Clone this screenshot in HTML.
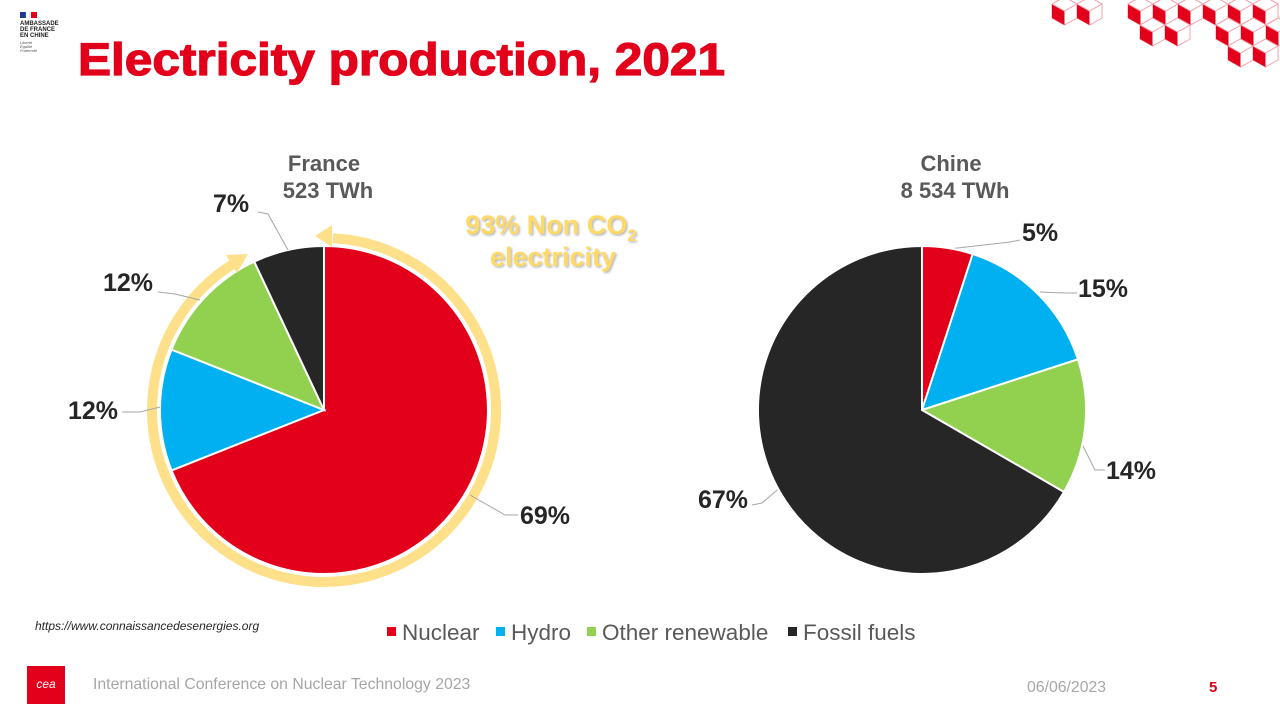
<!DOCTYPE html>
<html><head><meta charset="utf-8"><style>
body{margin:0;width:1280px;height:720px;background:#fff;overflow:hidden;font-family:"Liberation Sans",sans-serif}
svg{position:absolute;left:0;top:0}
</style></head><body>
<svg width="1280" height="720" viewBox="0 0 1280 720" font-family="Liberation Sans, sans-serif">
<defs>
<g id="cube">
<polygon points="0,0 12.5,-7 25,0 25,14 12.5,21 0,14" fill="#fff" stroke="#f4a0aa" stroke-width="1"/>
<polygon points="0,0 12.5,7 12.5,21 0,14" fill="#e2001a"/>
<polygon points="0,0 12.5,-7 25,0 12.5,7" fill="#fff" stroke="#f4a0aa" stroke-width="1"/>
</g>
<filter id="sh" x="-10%" y="-10%" width="120%" height="130%"><feDropShadow dx="1.5" dy="1.5" stdDeviation="1" flood-color="#888" flood-opacity="0.6"/></filter>
</defs>
<use href="#cube" x="1052" y="4"/><use href="#cube" x="1077" y="4"/>
<use href="#cube" x="1128" y="4"/><use href="#cube" x="1153" y="4"/><use href="#cube" x="1178" y="4"/><use href="#cube" x="1203" y="4"/><use href="#cube" x="1228" y="4"/><use href="#cube" x="1253" y="4"/>
<use href="#cube" x="1140" y="25"/><use href="#cube" x="1165" y="25"/><use href="#cube" x="1216" y="25"/><use href="#cube" x="1241" y="25"/><use href="#cube" x="1266" y="25"/>
<use href="#cube" x="1228" y="46"/><use href="#cube" x="1253" y="46"/>
<rect x="20" y="12" width="6" height="6" fill="#1f3a93"/><rect x="26" y="12" width="4" height="6" fill="#fff" stroke="#ddd" stroke-width=".3"/><rect x="31" y="12" width="6" height="6" fill="#e2001a"/>
<text x="20" y="25" font-size="6" font-weight="bold" fill="#222">AMBASSADE</text>
<text x="20" y="31" font-size="6" font-weight="bold" fill="#222">DE FRANCE</text>
<text x="20" y="37" font-size="6" font-weight="bold" fill="#222">EN CHINE</text>
<text x="20" y="44" font-size="4" font-style="italic" fill="#555">Liberté</text>
<text x="20" y="48" font-size="4" font-style="italic" fill="#555">Égalité</text>
<text x="20" y="52" font-size="4" font-style="italic" fill="#555">Fraternité</text>
<text x="78" y="75" font-size="45" font-weight="bold" fill="#e2001a" stroke="#e2001a" stroke-width="1.2" textLength="647" lengthAdjust="spacingAndGlyphs">Electricity production, 2021</text>
<text x="324" y="171" font-size="22" font-weight="bold" fill="#595959" text-anchor="middle">France</text>
<text x="328" y="198" font-size="22" font-weight="bold" fill="#595959" text-anchor="middle">523 TWh</text>
<g stroke="#fff" stroke-width="2">
<path d="M324,410 L324,246 A164,164 0 1 1 171.5,470.4 Z" fill="#e2001a"/>
<path d="M324,410 L171.5,470.4 A164,164 0 0 1 171.5,349.6 Z" fill="#00b0f0"/>
<path d="M324,410 L171.5,349.6 A164,164 0 0 1 254.2,261.6 Z" fill="#92d050"/>
<path d="M324,410 L254.2,261.6 A164,164 0 0 1 324,246 Z" fill="#262626"/>
</g>
<path d="M333,238.2 A172,172 0 1 1 232.9,264.1" fill="none" stroke="#ffe08a" stroke-width="10"/>
<polygon points="315,236 332,225 332,247" fill="#ffe08a"/>
<polygon points="248,254 237,273 226,255" fill="#ffe08a"/>
<g stroke="#a6a6a6" stroke-width="1" fill="none">
<polyline points="258,212 268,214 288,250"/>
<polyline points="158,292 175,294 200,300"/>
<polyline points="122,412 140,412 160,407"/>
<polyline points="518,515 505,515 470,495"/>
<polyline points="1020,240 1010,242 940,250"/>
<polyline points="1077,293 1065,293 1040,292"/>
<polyline points="1105,470 1095,470 1075,430"/>
<polyline points="752,505 762,503 782,486"/>
</g>
<g font-size="25" font-weight="bold" fill="#262626">
<text x="213" y="212">7%</text>
<text x="103" y="291">12%</text>
<text x="68" y="419">12%</text>
<text x="520" y="524">69%</text>
<text x="1022" y="241">5%</text>
<text x="1078" y="297">15%</text>
<text x="1106" y="479">14%</text>
<text x="698" y="508">67%</text>
</g>
<g filter="url(#sh)">
<text x="551" y="234" font-size="27" font-weight="bold" fill="#ffd966" text-anchor="middle">93% Non CO<tspan font-size="17" dy="7">2</tspan></text>
<text x="553" y="266" font-size="27" font-weight="bold" fill="#ffd966" text-anchor="middle">electricity</text>
</g>
<text x="951" y="171" font-size="22" font-weight="bold" fill="#595959" text-anchor="middle">Chine</text>
<text x="955" y="198" font-size="22" font-weight="bold" fill="#595959" text-anchor="middle">8 534 TWh</text>
<g stroke="#fff" stroke-width="2">
<path d="M922,410 L922,246 A164,164 0 0 1 972.7,254 Z" fill="#e2001a"/>
<path d="M922,410 L972.7,254 A164,164 0 0 1 1078,359.3 Z" fill="#00b0f0"/>
<path d="M922,410 L1078,359.3 A164,164 0 0 1 1064,492 Z" fill="#92d050"/>
<path d="M922,410 L1064,492 A164,164 0 1 1 922,246 Z" fill="#262626"/>
</g>
<g font-size="22.5" fill="#595959">
<rect x="387" y="627" width="9" height="9" fill="#e2001a"/><text x="402" y="640">Nuclear</text>
<rect x="496" y="627" width="9" height="9" fill="#00b0f0"/><text x="511" y="640">Hydro</text>
<rect x="587" y="627" width="9" height="9" fill="#92d050"/><text x="602" y="640">Other renewable</text>
<rect x="788" y="627" width="9" height="9" fill="#262626"/><text x="803" y="640">Fossil fuels</text>
</g>
<text x="35" y="630" font-size="12" font-style="italic" fill="#262626">https://www.connaissancedesenergies.org</text>
<rect x="27" y="666" width="38" height="38" fill="#e2001a"/>
<text x="46" y="688" font-size="12" fill="#fff" text-anchor="middle" font-style="italic">cea</text>
<text x="93" y="689" font-size="15.8" fill="#a6a6a6">International Conference on Nuclear Technology 2023</text>
<text x="1027" y="692" font-size="15.8" fill="#a6a6a6">06/06/2023</text>
<text x="1209" y="692" font-size="15" font-weight="bold" fill="#e2001a">5</text>
</svg>
</body></html>
